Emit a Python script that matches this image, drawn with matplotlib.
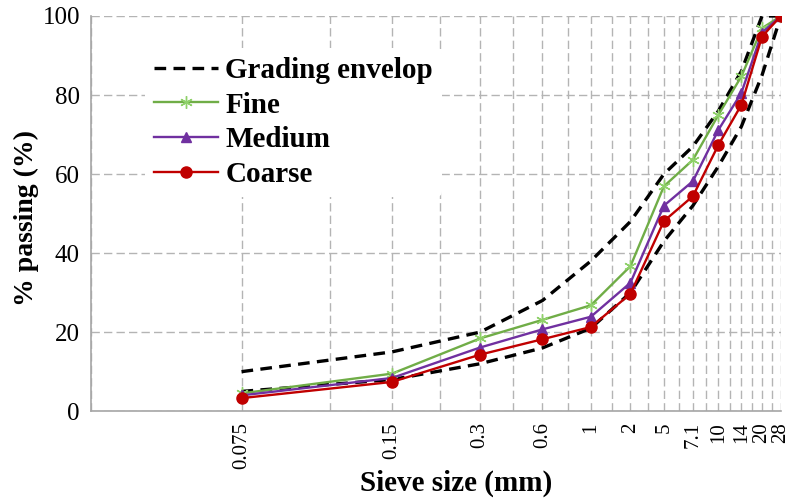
import numpy as np
import matplotlib
matplotlib.use("Agg")
import matplotlib.pyplot as plt
from matplotlib.ticker import FixedLocator, NullFormatter

plt.rcParams["font.family"] = ["Liberation Serif", "DejaVu Serif"]

# sieve sizes (shown as labels, plotted at evenly stepped positions on a log axis)
sieve_labels = ["0.075", "0.15", "0.3", "0.6", "1", "2", "5", "7.1", "10", "14", "20", "28"]

# % passing
fine = [4.5, 9.5, 18.4, 23.1, 26.8, 36.7, 56.9, 63.6, 75.0, 84.7, 96.9, 100]
medium = [4.0, 8.4, 16.1, 20.7, 23.9, 32.5, 52.0, 58.2, 71.2, 80.5, 95.8, 100]
coarse = [3.3, 7.4, 14.3, 18.2, 21.3, 29.7, 48.1, 54.4, 67.4, 77.5, 94.8, 100]
env_upper = [10, 15, 20, 28, 38, 48, 60, 67, 76, 86, 100, 100]
env_lower = [5, 8, 12, 16, 21, 30, 43, 52, 62, 72, 85, 100]

x = np.arange(2, 2 * len(sieve_labels) + 1, 2)

fig = plt.figure(figsize=(7.92, 4.99), dpi=100)
ax = fig.add_axes([0.115, 0.176, 0.871, 0.792])

dash = (0, (3.5, 2.2))
ax.plot(x, env_lower, color="black", lw=2.4, linestyle=dash, label="Grading envelop", zorder=3)
ax.plot(x, env_upper, color="black", lw=2.4, linestyle=dash, zorder=3)
ax.plot(x, fine, color="#70ad47", lw=1.7, marker=(6, 2, 0), markersize=9,
        markeredgecolor="#8fd16a", markeredgewidth=1.0, label="Fine", zorder=4)
ax.plot(x, medium, color="#7030a0", lw=1.7, marker="^", markersize=7.5,
        label="Medium", zorder=5)
ax.plot(x, coarse, color="#c00000", lw=1.7, marker="o", markersize=8,
        label="Coarse", zorder=6)

ax.set_xscale("log")
ax.set_xlim(1, 24)
ax.set_ylim(0, 100)
ax.xaxis.set_major_locator(FixedLocator(x))
ax.set_xticklabels(sieve_labels, rotation=90, fontsize=15)
ax.xaxis.set_minor_locator(FixedLocator(np.arange(1, 25)))
ax.xaxis.set_minor_formatter(NullFormatter())
ax.set_yticks(np.arange(0, 101, 20))
ax.tick_params(axis="y", labelsize=18, length=0, pad=8)
ax.tick_params(axis="x", which="both", length=0, pad=8)

grid_kw = dict(color="#b4b4b4", lw=1.0, linestyle=(0, (6, 3)))
ax.grid(True, which="both", axis="x", **grid_kw)
ax.grid(True, which="major", axis="y", **grid_kw)
ax.set_axisbelow(True)

for s in ["top", "right"]:
    ax.spines[s].set_visible(False)
for s in ["left", "bottom"]:
    ax.spines[s].set_color("#a6a6a6")
    ax.spines[s].set_linewidth(1.2)

fig.text(456 / 792, 1 - 483 / 499, "Sieve size (mm)", fontsize=21, fontweight="bold",
         ha="center", va="center")
fig.text(26 / 792, 1 - 218 / 499, "% passing (%)", fontsize=20, fontweight="bold",
         ha="center", va="center", rotation=90)

leg = ax.legend(loc="upper left", bbox_to_anchor=(0.057, 0.955), frameon=True,
                prop={"size": 21, "weight": "bold"}, handlelength=2.2,
                handletextpad=0.25, labelspacing=0.26, borderpad=0.3)
leg.get_frame().set_edgecolor("none")
leg.get_frame().set_facecolor("white")
leg.get_frame().set_alpha(1.0)

fig.savefig("out.png", dpi=100)
